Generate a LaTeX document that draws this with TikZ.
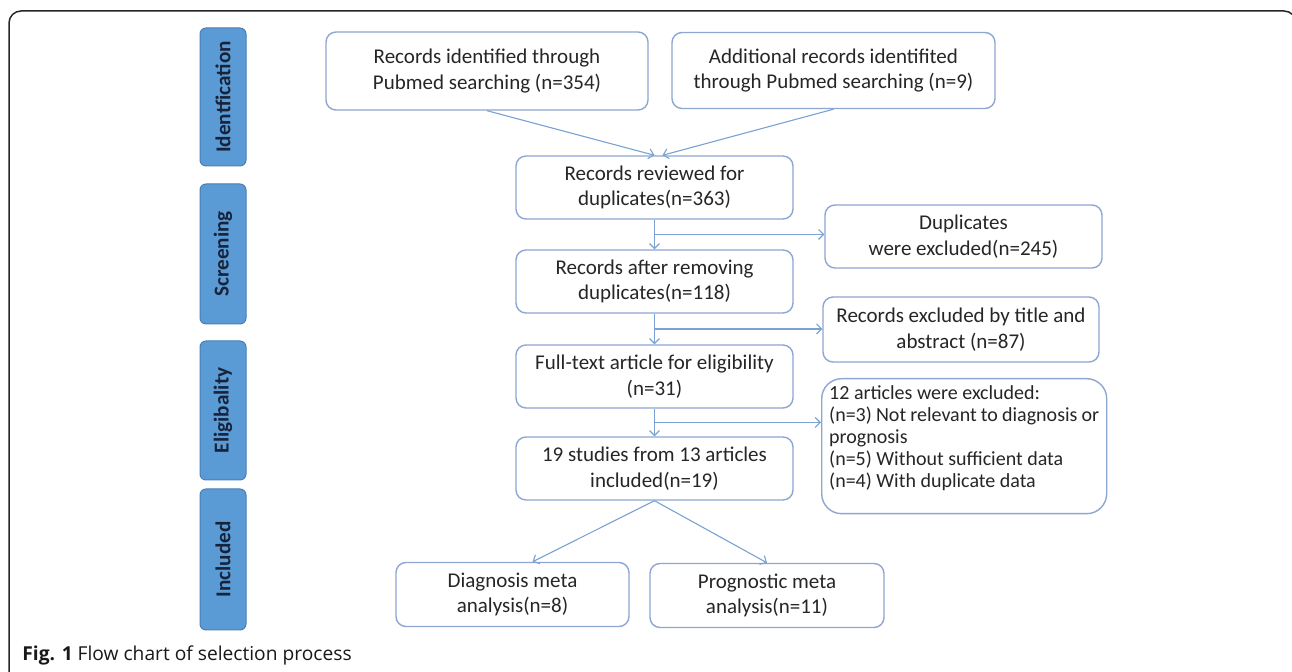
\documentclass[tikz,border=0pt]{standalone}
\usepackage{fontspec}
\setmainfont{Carlito}
\newfontfamily\capfont{Open Sans}
\usetikzlibrary{arrows.meta,calc}
\definecolor{barfill}{HTML}{5B9BD5}
\definecolor{barline}{HTML}{4A7EB3}
\definecolor{bartext}{HTML}{17233A}
\definecolor{boxline}{HTML}{8EA6D2}
\definecolor{arrowc}{HTML}{7AA2D4}
\definecolor{boxtext}{HTML}{262626}
\begin{document}
\begin{tikzpicture}[x=0.5pt,y=-0.5pt,
  phase/.style={draw=barline, fill=barfill, rounded corners=3pt, line width=0.5pt,
    minimum height=23pt, text=bartext, font=\fontsize{10.6}{12}\selectfont\bfseries,
    rotate=90, inner sep=0pt},
  flowbox/.style={draw=boxline, line width=0.7pt, rounded corners=5pt, fill=white,
    text=boxtext, align=center, font=\fontsize{10.5}{12.8}\selectfont, inner sep=2pt},
  midbox/.style={flowbox, minimum width=138.5pt, minimum height=31.5pt},
  arr/.style={draw=arrowc, line width=0.55pt, -{Straight Barb[length=2.5pt,width=5pt]}},
  framestyle/.style={draw=black!85, line width=0.75pt, rounded corners=6pt}
]
\useasboundingbox (0,0) rectangle (1292,672);
\fill[white] (0,0) rectangle (1292,672);
\draw[framestyle] (9,672) -- (9,11) -- (1296,11) -- (1296,672);

% phase bars
\node[phase, minimum width=69pt] (p1) at (223,97) {Identfication};
\node[phase, minimum width=70pt] (p2) at (223,254) {Screening};
\node[phase, minimum width=69.5pt] (p3) at (223,410.5) {Eligibality};
\node[phase, minimum width=70.5pt] (p4) at (223,559.5) {Included};

% boxes
\node[flowbox, minimum width=161pt, minimum height=39pt] (a) at (487,71)
  {Records identified through\\Pubmed searching (n=354)};
\node[flowbox, minimum width=161.5pt, minimum height=38pt] (b) at (833.5,70.5)
  {Additional records identifited\\through Pubmed searching (n=9)};
\node[midbox] (c) at (654.5,187.5) {Records reviewed for\\duplicates(n=363)};
\node[midbox] (d) at (654.5,281.5) {Records after removing\\duplicates(n=118)};
\node[midbox] (e) at (654.5,376.5) {Full-text article for eligibility\\(n=31)};
\node[midbox] (f) at (654.5,468.5) {19 studies from 13 articles\\included(n=19)};
\node[flowbox, minimum width=138.5pt, minimum height=31.5pt] (dup) at (963.5,236.5)
  {Duplicates\\were excluded(n=245)};
\node[flowbox, minimum width=138pt, minimum height=32.5pt] (excl) at (961,329.5)
  {Records excluded by title and\\abstract (n=87)};
\node[flowbox, rounded corners=10pt, anchor=north west, align=left, inner xsep=3.5pt, inner ysep=3pt,
  minimum width=142.5pt, minimum height=67.5pt] (twelve) at (821,378)
  {\begin{minipage}[c][61pt][t]{135pt}\fontsize{10}{11}\selectfont
   12 articles were excluded:\\
   (n=3) Not relevant to diagnosis or\\
   prognosis\\
   (n=5) Without sufficient data\\
   (n=4) With duplicate data\end{minipage}};
\node[flowbox, minimum width=116.5pt, minimum height=32pt] (diag) at (512.5,594.5)
  {Diagnosis meta\\analysis(n=8)};
\node[flowbox, minimum width=117pt, minimum height=32pt] (prog) at (767,595.5)
  {Prognostic meta\\analysis(n=11)};

% connectors
\draw[arr] (a.south) -- (c.north);
\draw[arr] (b.south) -- ([xshift=4pt]c.north);
\draw[arr] (c.south) -- (d.north);
\draw[arr] (d.south) -- (e.north);
\draw[arr] (e.south) -- (f.north);
\coordinate (m1) at ($(c.south)!0.5!(d.north)$);
\coordinate (m2) at ($(d.south)!0.5!(e.north)$);
\coordinate (m3) at ($(e.south)!0.5!(f.north)$);
\draw[arr] (m1) -- (m1 -| dup.west);
\draw[arr] (m2) -- (m2 -| excl.west);
\draw[arr] (m3) -- (m3 -| twelve.west);
\draw[arr] (f.south) -- ([xshift=10pt]diag.north);
\draw[arr] (f.south) -- (prog.north);

% caption
\node[anchor=west, font=\capfont\fontsize{9.6}{11}\selectfont, inner sep=0pt, text=black!90] (cap) at (22,655)
  {\textbf{Fig. 1} Flow chart of selection process};
\end{tikzpicture}
\end{document}
